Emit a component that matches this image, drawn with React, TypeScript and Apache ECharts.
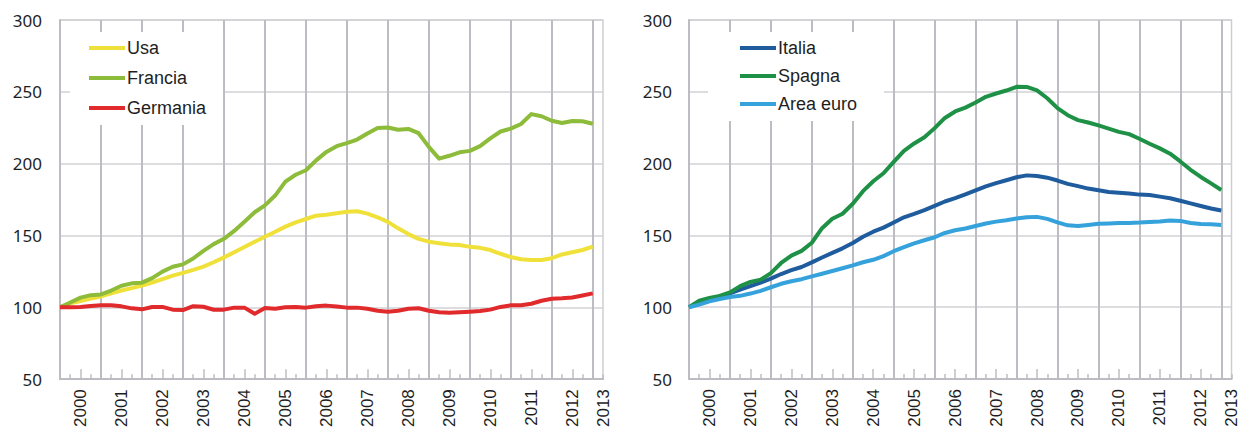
import React, { useEffect, useRef } from "react";
import * as echarts from "echarts";

const years = [2000, 2001, 2002, 2003, 2004, 2005, 2006, 2007, 2008, 2009, 2010, 2011, 2012, 2013];
const quarterNames = ["Q1", "Q2", "Q3", "Q4"];
const categories: string[] = years.flatMap((y) => quarterNames.map((q) => `${y}${q}`)).slice(0, 54);

const yTicks = { min: 50, max: 300, interval: 50 };

const leftNames = ["Usa", "Francia", "Germania"];
const leftColors = ["#f0e13a", "#8dbb3a", "#e02a2c"];
const usa = [100,102.8,104.4,106.1,107.6,109.8,111.7,113.4,115.1,117.3,119.7,122.1,124,126.1,128.4,131.4,134.8,138.4,142,145.6,149.1,152.6,156.2,159.2,161.5,163.8,164.5,165.5,166.6,166.9,165.2,162.7,159.5,155,151,147.7,145.7,144.6,143.7,143.4,142.1,141.4,139.9,137.3,135,133.5,132.9,132.9,134.2,136.8,138.3,139.9,142.2];
const francia = [100,103.4,106.8,108.5,109,111.7,115,116.7,117.2,120.3,124.9,128.3,129.9,134,139.3,144,147.7,153.2,159.6,166.2,171,177.8,187.5,192.3,195.4,202.3,208.2,212.2,214.3,216.8,221,224.8,225.2,223.6,224.2,221.2,211.7,203.5,205.5,207.9,208.9,212.2,217.6,222.4,224.4,227.6,234.5,233,229.9,228.3,229.7,229.5,227.8];
const germania = [100,100,100.2,100.9,101.4,101.5,100.7,99.3,98.6,100.2,100.3,98.4,98.1,100.8,100.4,98.3,98.4,99.8,99.8,95.5,99.5,99,100,100.3,99.8,100.8,101.2,100.6,99.8,99.8,99,97.6,97,97.6,99,99.4,97.6,96.6,96.3,96.6,97,97.4,98.4,100.3,101.4,101.4,102.5,104.6,106,106.3,106.8,108.2,109.7];

const rightNames = ["Italia", "Spagna", "Area euro"];
const rightColors = ["#1f5c9e", "#1f9146", "#35a2dc"];
const italia = [100,103.5,105.4,107.5,109.7,112.2,114.7,117.1,119.9,123.1,125.8,128,131.2,134.6,137.8,141,144.7,149,152.6,155.4,159,162.6,165,167.6,170.6,173.6,175.9,178.5,181.3,184.1,186.4,188.4,190.5,191.8,191.3,190.2,188.2,185.9,184.3,182.6,181.4,180.2,179.7,179.2,178.4,178.1,177,175.9,174.1,172.3,170.5,168.7,167.3];
const spagna = [100,104.5,106.5,107.9,110.3,114.7,117.6,119.2,123.7,130.8,135.9,139.2,144.9,155,161.6,165.1,172,180.8,187.7,193.3,201.2,208.9,214,218.3,224.7,231.8,236.3,239,242.5,246.5,248.8,250.9,253.5,253.4,251,245.5,238.6,233.7,230.3,228.6,226.6,224.4,222.1,220.5,217.3,213.8,210.6,206.9,201.5,195.7,190.7,186.2,181.6];
const areaEuro = [100,101.8,104.1,105.7,107.1,107.9,109.5,111.4,113.9,116.3,118.1,119.5,121.5,123.3,125.2,127.1,129.1,131.3,133,135.6,139,141.9,144.5,146.6,148.7,151.7,153.6,154.8,156.5,158.3,159.6,160.6,161.8,162.7,162.9,161.5,159.1,157,156.5,157.3,158.1,158.3,158.6,158.7,158.9,159.3,159.7,160.3,160.1,158.6,157.9,157.7,157.3];

const vGrid = "#bcbcc3";
const hGrid = "#d2d2d4";
const textColor = "#1e1e1e";

function xAxes(g: number) {
  const last = categories.length - 1;
  return [
    {
      type: "category",
      gridIndex: g,
      data: categories,
      boundaryGap: false,
      position: "bottom",
      axisLine: { show: true, lineStyle: { color: vGrid, width: 2 } },
      axisTick: {
        show: true,
        inside: true,
        length: 5,
        interval: (i: number) => i % 4 === 1 || i % 4 === 3,
        lineStyle: { color: vGrid, width: 1.5 },
      },
      axisLabel: {
        show: true,
        rotate: 90,
        margin: 10,
        interval: (i: number) => i % 4 === 2 || i === last,
        formatter: (v: string) => v.slice(0, 4),
        fontFamily: "Liberation Sans",
        fontSize: 17,
        color: textColor,
      },
      splitLine: {
        show: true,
        interval: (i: number) => i % 4 === 0,
        lineStyle: { color: vGrid, width: 2 },
      },
    },
    {
      type: "category",
      gridIndex: g,
      data: categories,
      boundaryGap: false,
      position: "bottom",
      axisLine: { show: false },
      axisTick: {
        show: true,
        inside: true,
        length: 10,
        interval: (i: number) => i % 4 === 2,
        lineStyle: { color: vGrid, width: 1.5 },
      },
      axisLabel: { show: false },
      splitLine: { show: false },
    },
  ];
}

function yAxis(g: number, margin: number) {
  return {
    type: "value",
    gridIndex: g,
    min: yTicks.min,
    max: yTicks.max,
    interval: yTicks.interval,
    axisLine: { show: true, lineStyle: { color: vGrid, width: 2 } },
    axisTick: { show: false },
    axisLabel: { margin, fontFamily: "Noto Sans", fontSize: 17, color: textColor },
    splitLine: { show: true, lineStyle: { color: hGrid, width: 1.5 } },
  };
}

function lines(g: number, names: string[], colors: string[], datas: number[][]) {
  return names.map((name, k) => ({
    type: "line",
    name,
    xAxisIndex: g * 2,
    yAxisIndex: g,
    data: datas[k],
    symbol: "none",
    color: colors[k],
    lineStyle: { width: 4, color: colors[k], join: "round" },
    z: 3 + k,
  }));
}

function legend(names: string[], left: number, gap: number, padding: number[]) {
  return {
    data: names,
    orient: "vertical",
    left,
    top: 32,
    icon: "rect",
    itemWidth: 36,
    itemHeight: 4,
    itemGap: gap,
    backgroundColor: "#ffffff",
    padding,
    textStyle: {
      fontFamily: "Liberation Sans",
      fontSize: 18,
      lineHeight: 24,
      color: textColor,
      padding: [0, 0, 0, -3],
    },
  };
}

export default function App() {
  const ref = useRef<HTMLDivElement>(null);
  useEffect(() => {
    if (!ref.current) return;
    const chart = echarts.init(ref.current, undefined, { renderer: "svg" });
    chart.setOption({
      animation: false,
      backgroundColor: "#ffffff",
      grid: [
        { left: 60, top: 20, width: 543, height: 360, show: true, borderColor: "#cfcfd2", borderWidth: 1.5 },
        { left: 689, top: 20, width: 543, height: 359, show: true, borderColor: "#cfcfd2", borderWidth: 1.5 },
      ],
      legend: [
        legend(leftNames, 70, 6, [4, 17, 5, 19]),
        legend(rightNames, 708, 4, [4, 27, 5, 32]),
      ],
      xAxis: [...xAxes(0), ...xAxes(1)],
      yAxis: [yAxis(0, 18), yAxis(1, 17)],
      series: [
        ...lines(0, leftNames, leftColors, [usa, francia, germania]),
        ...lines(1, rightNames, rightColors, [italia, spagna, areaEuro]),
      ],
    });
    return () => chart.dispose();
  }, []);
  return (
    <div
      ref={ref}
      style={{ position: "absolute", left: 0, top: 0, width: 1240, height: 430 }}
    />
  );
}
